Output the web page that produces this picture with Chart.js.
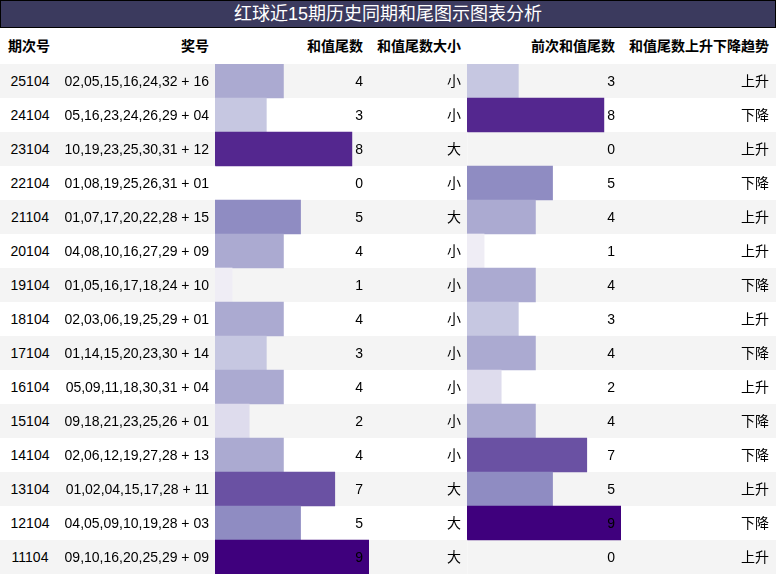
<!DOCTYPE html>
<html><head><meta charset="utf-8">
<script src="https://cdn.jsdelivr.net/npm/chart.js@4"></script>
<style>
body{margin:0;width:776px;height:575px;overflow:hidden;font-family:"Liberation Sans","Noto Sans CJK SC",sans-serif;background:#fff;}
#title{position:absolute;left:0;top:0;width:774px;height:26px;background:#3b3a5e;border:1px solid #000;color:#fff;font-size:18px;text-align:center;line-height:27px;}
.cell{position:absolute;font-size:14px;line-height:34px;height:34px;white-space:nowrap;}
.hd{font-weight:bold;}
.stripe{position:absolute;left:0;width:776px;height:34px;}
.cv{position:absolute;top:64px;width:154px;height:510px;}
</style></head><body>
<div id="title">红球近15期历史同期和尾图示图表分析</div>
<div id="grid"></div>
<div class="cv" style="left:215px"><canvas id="c1"></canvas></div>
<div class="cv" style="left:467px"><canvas id="c2"></canvas></div>
<div id="txt"></div>
<script>
const periods = ['25104','24104','23104','22104','21104','20104','19104','18104','17104','16104','15104','14104','13104','12104','11104'];
const draws = ['02,05,15,16,24,32 + 16','05,16,23,24,26,29 + 04','10,19,23,25,30,31 + 12','01,08,19,25,26,31 + 01','01,07,17,20,22,28 + 15','04,08,10,16,27,29 + 09','01,05,16,17,18,24 + 10','02,03,06,19,25,29 + 01','01,14,15,20,23,30 + 14','05,09,11,18,30,31 + 04','09,18,21,23,25,26 + 01','02,06,12,19,27,28 + 13','01,02,04,15,17,28 + 11','04,05,09,10,19,28 + 03','09,10,16,20,25,29 + 09'];
const sumTail = [4,3,8,0,5,4,1,4,3,4,2,4,7,5,9];
const sizes = ['小','小','大','小','大','小','小','小','小','小','小','小','大','大','大'];
const prevTail = [3,8,0,5,4,1,4,3,4,2,4,7,5,9,0];
const trends = ['上升','下降','上升','下降','上升','上升','下降','上升','下降','上升','下降','下降','上升','下降','上升'];
const headers = ['期次号','奖号','和值尾数','和值尾数大小','前次和值尾数','和值尾数上升下降趋势'];
const purples = ['#ffffff','#efedf5','#dedced','#c6c7e1','#abaad1','#8f8cc2','#7b6db4','#6a51a3','#54278f','#3f007d'];

const grid = document.getElementById('grid'), txt = document.getElementById('txt');
function cell(parent, text, left, top, align, width, cls) {
    const d = document.createElement('div');
    d.className = 'cell ' + (cls || '');
    d.style.top = top + 'px';
    if (align === 'right') d.style.right = (776 - left) + 'px';
    else { d.style.left = left + 'px'; d.style.width = width + 'px'; d.style.textAlign = 'center'; }
    d.textContent = text;
    parent.appendChild(d);
}
cell(txt, headers[0], 0, 29, 'center', 58, 'hd');
cell(txt, headers[1], 209, 29, 'right', 0, 'hd');
cell(txt, headers[2], 363, 29, 'right', 0, 'hd');
cell(txt, headers[3], 461, 29, 'right', 0, 'hd');
cell(txt, headers[4], 615, 29, 'right', 0, 'hd');
cell(txt, headers[5], 769, 29, 'right', 0, 'hd');
periods.forEach((p, i) => {
    const top = 64 + i * 34;
    const s = document.createElement('div');
    s.className = 'stripe';
    s.style.top = top + 'px';
    s.style.background = i % 2 === 0 ? '#f4f4f4' : '#ffffff';
    grid.appendChild(s);
    cell(txt, p, 0, top, 'center', 60);
    cell(txt, draws[i], 209, top, 'right');
    cell(txt, sumTail[i], 363, top, 'right');
    cell(txt, sizes[i], 461, top, 'right');
    cell(txt, prevTail[i], 615, top, 'right');
    cell(txt, trends[i], 769, top, 'right');
});

function barChart(id, values) {
    new Chart(document.getElementById(id), {
        type: 'bar',
        data: {
            labels: periods,
            datasets: [{
                data: values,
                backgroundColor: values.map(v => purples[v]),
                borderWidth: 0,
                barPercentage: 1,
                categoryPercentage: 1
            }]
        },
        options: {
            indexAxis: 'y',
            responsive: true,
            maintainAspectRatio: false,
            animation: false,
            layout: { padding: 0 },
            plugins: { legend: { display: false }, tooltip: { enabled: false } },
            scales: {
                x: { min: 0, max: 9, display: false },
                y: { display: false }
            }
        }
    });
}
barChart('c1', sumTail);
barChart('c2', prevTail);
</script>
</body></html>
